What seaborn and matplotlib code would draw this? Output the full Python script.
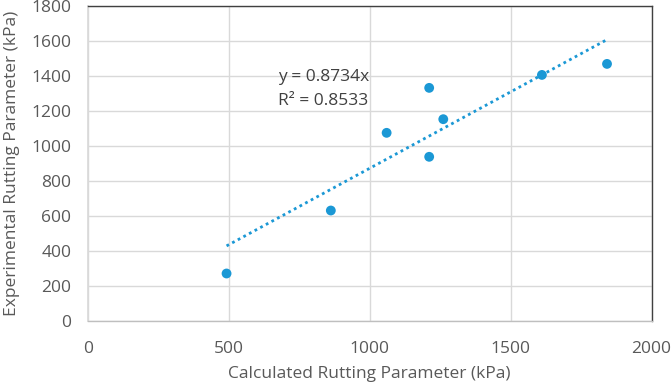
import matplotlib
matplotlib.use("Agg")
import matplotlib.pyplot as plt
import seaborn as sns
import numpy as np
import pandas as pd

calculated = [492, 862, 1060, 1211, 1261, 1211, 1611, 1842]
experimental = [272, 632, 1076, 939, 1154, 1333, 1407, 1470]
slope = 0.8734
r2 = 0.8533
xticks = [0, 500, 1000, 1500, 2000]
yticks = [0, 200, 400, 600, 800, 1000, 1200, 1400, 1600, 1800]

df = pd.DataFrame({"calc": calculated, "exp": experimental})

sns.set_theme(style="white")
plt.rcParams["font.family"] = ["Open Sans", "DejaVu Sans"]

fig = plt.figure(figsize=(6.71, 3.85), dpi=100)
ax = fig.add_axes([0.131, 0.166, 0.84, 0.818])

blue = "#1b98d5"
sns.scatterplot(data=df, x="calc", y="exp", ax=ax, color=blue, s=50,
                edgecolor="none", zorder=3)

xs = np.array([min(calculated), max(calculated)])
ax.plot(xs, slope * xs, color=blue, linestyle=(0, (1, 1.3)), linewidth=2.0, zorder=2)

ax.text(675, 1394, f"y = {slope}x", fontsize=12.5, color="#404040", va="center", ha="left")
ax.text(675, 1257, f"R² = {r2}", fontsize=12.5, color="#404040", va="center", ha="left")

ax.set_xlim(0, 2000)
ax.set_ylim(0, 1800)
ax.set_xticks(xticks)
ax.set_yticks(yticks)
ax.grid(True, color="#d9d9d9", linewidth=1.0)
ax.set_axisbelow(True)
ax.tick_params(axis="both", labelsize=12.5, labelcolor="#595959", length=0)
ax.tick_params(axis="y", pad=12)
ax.tick_params(axis="x", pad=14)

ax.set_xlabel("Calculated Rutting Parameter (kPa)", fontsize=12.5, color="#595959", labelpad=7)
ax.set_ylabel("Experimental Rutting Parameter (kPa)", fontsize=12.5, color="#595959", labelpad=8)

for side in ["top", "right"]:
    ax.spines[side].set_color("#404040")
    ax.spines[side].set_linewidth(1.0)
ax.spines["bottom"].set_color("#bfbfbf")
ax.spines["left"].set_color("#d9d9d9")
ax.spines["bottom"].set_linewidth(1.0)

fig.savefig("out.png", dpi=100)
